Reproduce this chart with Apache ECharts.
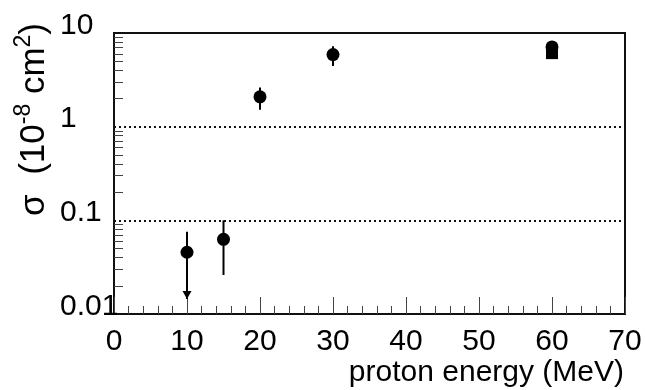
<!DOCTYPE html>
<html>
<head>
<meta charset="utf-8">
<script src="https://cdn.jsdelivr.net/npm/echarts@6/dist/echarts.min.js"></script>
<style>
html,body{margin:0;padding:0;background:#fff;}
#chart{width:645px;height:390px;}
</style>
</head>
<body>
<div id="chart"></div>
<script>
// ---- data ----
const energy      = [10, 15, 20, 30, 60];
const sigma       = [0.0456, 0.0627, 2.08, 5.89, 7.1];
const errLow      = [0.0145, 0.0261, 1.52, 4.45, null];
const errHigh     = [0.0755, 0.100, 2.62, 7.22, null];
const upperLimit  = [1, 0, 0, 0, 0];
const squareEnergy = [60];
const squareSigma  = [6.1];
const xTickValues = [0, 10, 20, 30, 40, 50, 60, 70];
const yTickValues = [0.01, 0.1, 1, 10];
const xTitle = 'proton energy (MeV)';

const FONT = '"Liberation Sans", Arial, Helvetica, sans-serif';
const INK = '#000';

const chart = echarts.init(document.getElementById('chart'), null, {renderer: 'canvas'});

const errData = [];
energy.forEach(function (e, i) {
  if (errLow[i] != null) errData.push([e, errLow[i], errHigh[i], upperLimit[i]]);
});

const option = {
  animation: false,
  backgroundColor: '#fff',
  grid: {
    left: 114, top: 33, right: 20, bottom: 76,
    show: true, borderColor: '#111', borderWidth: 2, backgroundColor: '#fff'
  },
  xAxis: {
    type: 'value',
    min: xTickValues[0], max: xTickValues[xTickValues.length - 1], interval: 10,
    axisLine: {show: true, lineStyle: {color: '#111', width: 2}},
    axisTick: {show: true, inside: true, length: 17, lineStyle: {color: '#444', width: 1}},
    minorTick: {show: true, splitNumber: 5, length: 8, lineStyle: {color: '#444', width: 1}},
    axisLabel: {margin: 13, fontSize: 30, color: INK, fontFamily: FONT},
    splitLine: {show: false}
  },
  yAxis: {
    type: 'log', logBase: 10,
    min: yTickValues[0], max: yTickValues[yTickValues.length - 1],
    axisLine: {show: true, lineStyle: {color: '#111', width: 2}},
    axisTick: {show: false, inside: true},
    minorTick: {show: true, splitNumber: 9, length: 9, lineStyle: {color: '#444', width: 1}},
    splitLine: {show: true, lineStyle: {type: [2, 3], color: '#111', width: 2}},
    axisLabel: {
      align: 'left', margin: 54, verticalAlign: 'bottom', lineHeight: 15,
      fontSize: 30, color: INK, fontFamily: FONT,
      formatter: function (v) {
        let best = yTickValues[0];
        yTickValues.forEach(function (t) { if (Math.abs(Math.log10(t) - Math.log10(v)) < Math.abs(Math.log10(best) - Math.log10(v))) best = t; });
        return String(best);
      }
    }
  },
  graphic: [
    {
      type: 'text', x: 624, y: 373,
      style: {text: xTitle, align: 'right', verticalAlign: 'middle', fontSize: 30, fill: INK, fontFamily: FONT}
    },
    {
      type: 'text', x: 34, y: 23, rotation: Math.PI / 2,
      style: {
        text: '{b|σ  (10}{s|-8}{b| cm}{s|2}{b|)}',
        align: 'right', verticalAlign: 'middle', fill: INK, fontFamily: FONT,
        rich: {
          b: {fontSize: 35, lineHeight: 44, fontFamily: FONT, fill: INK},
          s: {fontSize: 23, lineHeight: 44, verticalAlign: 'top', fontFamily: FONT, fill: INK}
        }
      }
    }
  ],
  series: [
    {
      type: 'custom',
      z: 3,
      data: errData,
      encode: {x: 0, y: [1, 2]},
      renderItem: function (params, api) {
        const x = api.value(0), lo = api.value(1), hi = api.value(2), lim = api.value(3);
        const pLo = api.coord([x, lo]);
        const pHi = api.coord([x, hi]);
        const children = [{
          type: 'line',
          shape: {x1: pLo[0], y1: pLo[1], x2: pHi[0], y2: pHi[1]},
          style: {stroke: INK, lineWidth: 2}
        }];
        if (lim) {
          children.push({
            type: 'polygon',
            shape: {points: [[pLo[0] - 4.5, pLo[1] - 8], [pLo[0] + 4.5, pLo[1] - 8], [pLo[0], pLo[1]]]},
            style: {fill: INK}
          });
        }
        return {type: 'group', children: children};
      }
    },
    {
      type: 'scatter', z: 4,
      symbol: 'rect', symbolSize: 12,
      itemStyle: {color: '#000', opacity: 1},
      data: squareEnergy.map(function (e, i) { return [e, squareSigma[i]]; })
    },
    {
      type: 'scatter', z: 5,
      symbol: 'circle', symbolSize: 13,
      itemStyle: {color: '#000', opacity: 1},
      data: energy.map(function (e, i) { return [e, sigma[i]]; })
    }
  ]
};
chart.setOption(option);
</script>
</body>
</html>
